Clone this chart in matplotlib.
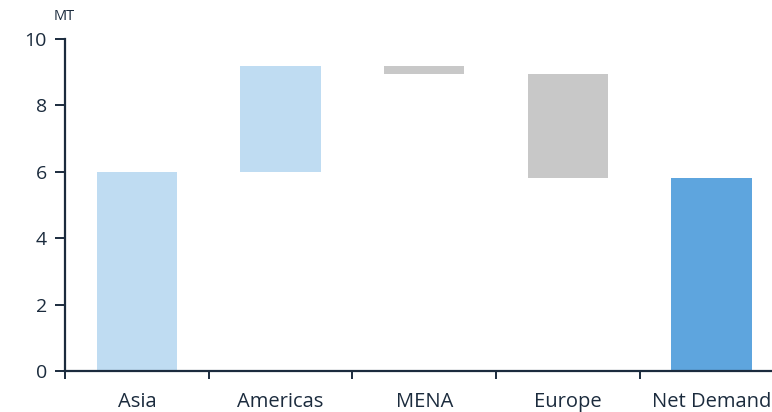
import numpy as np
import matplotlib.pyplot as plt

# waterfall: regional contributions and the resulting net demand (MT)
categories = ["Asia", "Americas", "MENA", "Europe", "Net Demand"]
changes = [6.0, 3.2, -0.25, -3.15]
net_total = 5.8
yticks = [0, 2, 4, 6, 8, 10]

light_blue = "#bfdcf2"
grey = "#c8c8c8"
total_blue = "#5ea5de"
navy = "#1b2b3d"

plt.rcParams['font.family'] = ['Open Sans', 'DejaVu Sans']

fig = plt.figure(figsize=(7.72, 4.12), dpi=100)
ax = fig.add_axes([65/772, 1-371/412, 1-65/772, (371-39)/412])

ends = np.cumsum(changes)
starts = ends - np.array(changes)
bottoms = list(np.minimum(starts, ends)) + [0]
heights = list(np.abs(changes)) + [net_total]
colors = [light_blue if c > 0 else grey for c in changes] + [total_blue]

x = np.arange(len(categories))
ax.bar(x, heights, bottom=bottoms, width=0.56, color=colors, zorder=2)

ax.set_yticks(yticks)
ax.set_xticks(x)
ax.set_xticklabels(categories)
ax.set_xticks(np.arange(-0.5, 4.6, 1.0), minor=True)
ax.set_xlim(-0.5, 4.42)
ax.set_ylim(0, 10)

for s in ["top", "right"]:
    ax.spines[s].set_visible(False)
for s in ["left", "bottom"]:
    ax.spines[s].set_color(navy)
    ax.spines[s].set_linewidth(1.6)

ax.tick_params(axis='x', which='major', length=0, pad=15, labelsize=14.5, labelcolor=navy)
ax.tick_params(axis='x', which='minor', length=6, width=1.4, color=navy)
ax.tick_params(axis='y', length=7, width=1.4, color=navy, labelsize=14,
               labelcolor=navy, pad=6)

fig.text(64/772, 1-16/412, "MT", ha='center', va='center', fontsize=10.5, color=navy)

fig.savefig("out.png", dpi=100)
